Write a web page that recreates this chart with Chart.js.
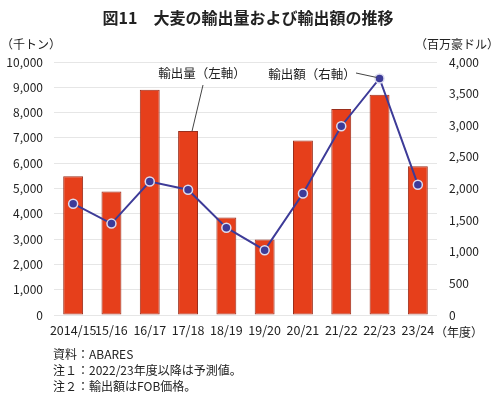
<!DOCTYPE html>
<html>
<head>
<meta charset="utf-8">
<script src="https://cdn.jsdelivr.net/npm/chart.js@4"></script>
<style>
html,body{margin:0;padding:0;background:#fff;}
#wrap{width:500px;height:396px;position:relative;}
</style>
</head>
<body>
<div id="wrap"><canvas id="c" width="500" height="396"></canvas></div>
<script>
const categories = ["2014/15","15/16","16/17","17/18","18/19","19/20","20/21","21/22","22/23","23/24"];
const exportVolume = [5480, 4880, 8900, 7270, 3850, 2980, 6900, 8140, 8710, 5880];
const exportValue = [1760, 1445, 2110, 1980, 1380, 1025, 1920, 2985, 3740, 2060];
const leftTicksMax = 10000;
const rightTicksMax = 4000;

const FONT = '"Noto Sans CJK JP", "Noto Sans", sans-serif';
const TXT = '#222';

const decor = {
  id: 'decor',
  afterDraw(chart) {
    const ctx = chart.ctx;
    const x = chart.scales.x, yl = chart.scales.y, yr = chart.scales.y1;
    ctx.save();
    ctx.fillStyle = TXT;
    ctx.textBaseline = 'middle';
    // title
    ctx.font = 'bold 16px ' + FONT;
    ctx.textAlign = 'center';
    ctx.fillText('図11　大麦の輸出量および輸出額の推移', 248, 18);
    // units
    ctx.font = '12px ' + FONT;
    ctx.textAlign = 'left';
    ctx.fillText('（千トン）', 1, 44);
    ctx.textAlign = 'right';
    ctx.fillText('（百万豪ドル）', 499, 44);
    ctx.textAlign = 'left';
    ctx.fillText('（年度）', 435, 332);
    // annotations
    ctx.font = '12.5px ' + FONT;
    ctx.textAlign = 'center';
    ctx.fillText('輸出量（左軸）', 202, 73);
    ctx.fillText('輸出額（右軸）', 312, 74);
    ctx.strokeStyle = '#444';
    ctx.lineWidth = 1;
    ctx.beginPath();
    ctx.moveTo(203, 85);
    ctx.lineTo(x.getPixelForValue(3) + 4, yl.getPixelForValue(exportVolume[3]));
    ctx.stroke();
    ctx.beginPath();
    ctx.moveTo(356, 73);
    ctx.lineTo(x.getPixelForValue(8) - 3, yr.getPixelForValue(exportValue[8]) - 1);
    ctx.stroke();
    // footnotes
    ctx.font = '12px ' + FONT;
    ctx.textAlign = 'left';
    ctx.fillText('資料：ABARES', 53, 354);
    ctx.fillText('注１：2022/23年度以降は予測値。', 53, 370);
    ctx.fillText('注２：輸出額はFOB価格。', 53, 386);
    ctx.restore();
  }
};

new Chart(document.getElementById('c'), {
  data: {
    labels: categories,
    datasets: [
      {
        type: 'line',
        label: '輸出額（右軸）',
        data: exportValue,
        yAxisID: 'y1',
        borderColor: '#3D3B98',
        borderWidth: 2,
        pointRadius: 4.5,
        pointBackgroundColor: '#3D3B98',
        pointBorderColor: '#dcdcf0',
        pointBorderWidth: 1.5,
        tension: 0,
        order: 0
      },
      {
        type: 'bar',
        label: '輸出量（左軸）',
        data: exportVolume,
        yAxisID: 'y',
        backgroundColor: '#E63F1B',
        borderColor: '#9A2E1C',
        borderWidth: 1,
        borderSkipped: false,
        categoryPercentage: 1,
        barPercentage: 0.52,
        order: 1
      }
    ]
  },
  options: {
    responsive: false,
    animation: false,
    layout: { padding: { top: 62, left: 0, right: 0, bottom: 0 } },
    plugins: { legend: { display: false }, tooltip: { enabled: false } },
    scales: {
      x: {
        grid: { display: false, drawTicks: false },
        border: { display: false },
        ticks: { color: TXT, font: { family: FONT, size: 12.5 }, padding: 8, maxRotation: 0, autoSkip: false },
        afterFit(s) { s.height = 81; }
      },
      y: {
        position: 'left',
        min: 0, max: leftTicksMax,
        grid: { color: '#e6e6e6', drawTicks: false, lineWidth: 1 },
        border: { display: false },
        ticks: {
          stepSize: 1000, color: TXT, padding: 11,
          font: { family: FONT, size: 12 },
          callback: v => v.toLocaleString('en-US')
        },
        afterFit(s) { s.width = 54; }
      },
      y1: {
        position: 'right',
        min: 0, max: rightTicksMax,
        grid: { display: false, drawTicks: false },
        border: { display: false },
        ticks: {
          stepSize: 500, color: TXT, padding: 12,
          font: { family: FONT, size: 12 },
          callback: v => v.toLocaleString('en-US')
        },
        afterFit(s) { s.width = 63; }
      }
    }
  },
  plugins: [decor]
});
</script>
</body>
</html>
